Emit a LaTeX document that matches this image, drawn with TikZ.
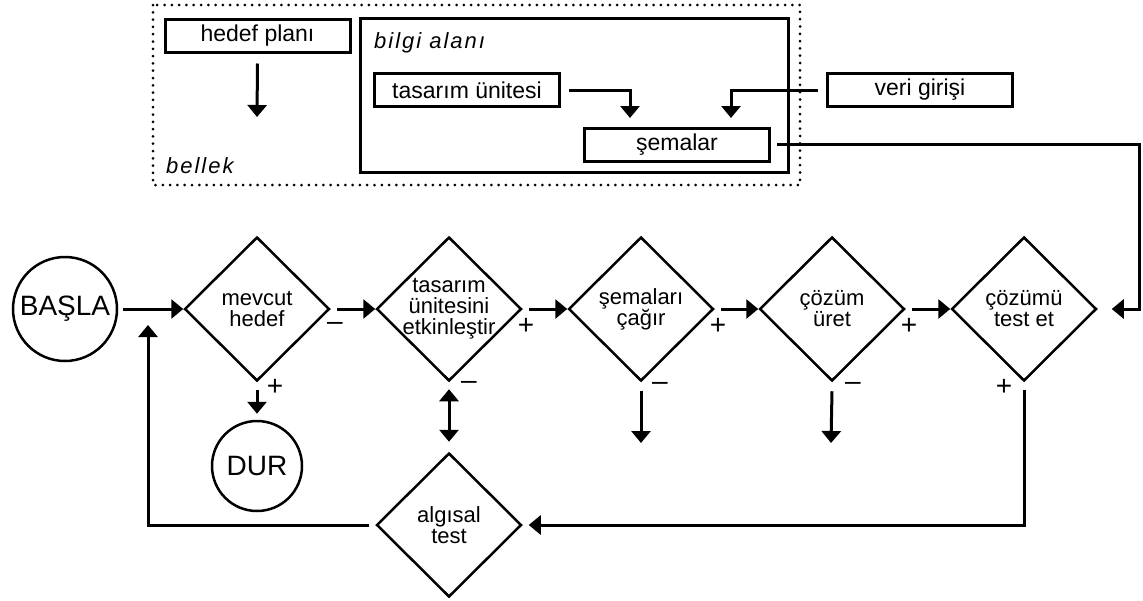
\documentclass[tikz,border=0pt]{standalone}
\usepackage{fontspec}
\setmainfont{Liberation Sans}
\usetikzlibrary{shapes.geometric,arrows.meta,positioning}

\tikzset{
        karar/.style={draw,diamond,line width=2.5pt,minimum width=145pt,minimum height=144pt,inner sep=-5pt,align=center,font=\fontsize{22}{21}\selectfont},
        kutu/.style={draw,line width=3pt,minimum width=185pt,minimum height=33pt,inner sep=0pt,font=\fontsize{23}{23}\selectfont},
        daire/.style={draw,circle,line width=2.5pt,inner sep=0pt,font=\fontsize{28}{28}\selectfont},
        isaret/.style={inner sep=0pt,font=\fontsize{28}{28}\selectfont},
        yazi/.style={inner sep=0pt,anchor=base west,font=\fontsize{22}{22}\selectfont\itshape\addfontfeature{LetterSpace=9}},
        hat/.style={line width=3pt},
        ok/.style={hat,-{Triangle[length=12pt,width=19pt]}},
        ciftok/.style={hat,{Triangle[length=12pt,width=19pt]}-{Triangle[length=12pt,width=19pt]}},
}

\begin{document}
\begin{tikzpicture}[x=1pt,y=-1pt]
        \useasboundingbox (0,0) rectangle (1143,600);
        \draw[line width=3pt,line cap=round,dash pattern=on 0pt off 7.3pt] (153,5) rectangle (800,185);
        \draw[hat] (360,18) rectangle (788,172);
        \node[yazi] (bellek) at (166,173) {bellek};
        \node[yazi] (bilgi) at (374,48) {bilgi alanı};
        \node[kutu] (hplan) at (257.5,35.5) {hedef planı};
        \node[kutu] (tunite) at (467,90) {tasarım ünitesi};
        \node[kutu] (veri) at (920,90) {veri girişi};
        \node[kutu] (sema) at (677,144.5) {şemalar};
        \coordinate (hplanuc) at (257,117);
        \coordinate (tuniteuc) at (630,118);
        \coordinate (veriuc) at (731,118);
        \coordinate (sagkose) at (1139,309);

        \node[daire,minimum size=104pt] (basla) at (65,309) {BAŞLA};
        \node[karar] (mevcut) at (257,309) {mevcut\\hedef};
        \node[karar] (tasarim) at (449,309) {tasarım\\ünitesini\\etkinleştir};
        \node[karar] (semcagir) at (641,309) {şemaları\\çağır};
        \node[karar] (cozum) at (832,309) {çözüm\\üret};
        \node[karar] (cozumtest) at (1024,309) {çözümü\\test et};
        \node[karar] (algisal) at (449,525) {algısal\\test};
        \node[daire,minimum size=90pt] (dur) at (257,466) {DUR};
        \coordinate (semcagiruc) at (641,443);
        \coordinate (cozumuc) at (831,443);
        \coordinate (geri) at (148,325);

        \node[isaret] (m1) at (335,326) {–};
        \node[isaret] (p1) at (526,326) {+};
        \node[isaret] (p2) at (718,326) {+};
        \node[isaret] (p3) at (909,326) {+};
        \node[isaret] (p4) at (275,387) {+};
        \node[isaret] (m2) at (469,385) {–};
        \node[isaret] (m3) at (660,386) {–};
        \node[isaret] (m4) at (853,386) {–};
        \node[isaret] (p5) at (1004,387) {+};

        \draw[ok] ([yshift=-10pt]hplan.south) -- (hplanuc);
        \draw[ok] ([xshift=8pt]tunite.east) -| (tuniteuc);
        \draw[ok] ([xshift=-8pt]veri.west) -| (veriuc);
        \draw[ok] ([xshift=6pt]sema.east) -| (sagkose) -- ([xshift=14pt]cozumtest.east);

        \draw[ok] ([xshift=5pt]basla.east) -- (mevcut.west);
        \draw[ok] ([xshift=6pt]mevcut.east) -- (tasarim.west);
        \draw[ok] ([xshift=6pt]tasarim.east) -- (semcagir.west);
        \draw[ok] ([xshift=6pt]semcagir.east) -- (cozum.west);
        \draw[ok] ([xshift=6pt]cozum.east) -- (cozumtest.west);

        \draw[ok] ([yshift=-8pt]mevcut.south) -- ([yshift=6pt]dur.north);
        \draw[ciftok] ([yshift=-7pt]tasarim.south) -- ([yshift=10pt]algisal.north);
        \draw[ok] ([yshift=-9pt]semcagir.south) -- (semcagiruc);
        \draw[ok] ([yshift=-9pt]cozum.south) -- (cozumuc);
        \draw[ok] ([yshift=-8pt]cozumtest.south) |- ([xshift=6pt]algisal.east);
        \draw[ok] ([xshift=-6pt]algisal.west) -| (geri);
\end{tikzpicture}
\end{document}
